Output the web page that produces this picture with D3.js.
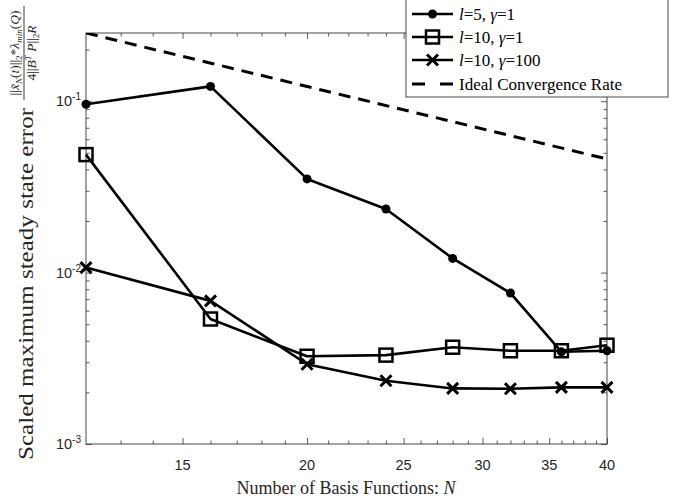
<!DOCTYPE html>
<html>
<head>
<meta charset="utf-8">
<script src="https://cdn.jsdelivr.net/npm/d3@7"></script>
<style>
    html, body { margin: 0; padding: 0; background: #fff; }
    svg { display: block; }
</style>
</head>
<body>
<div id="chart"></div>
<script>
// Values
const basisN = [12, 16, 20, 24, 28, 32, 36, 40];
const errL5G1 = [0.096, 0.122, 0.0352, 0.0235, 0.0121, 0.0076, 0.00345, 0.0035];
const errL10G1 = [0.0488, 0.00536, 0.00325, 0.0033, 0.00367, 0.0035, 0.0035, 0.00377];
const errL10G100 = [0.0107, 0.00684, 0.00292, 0.00234, 0.00211, 0.0021, 0.00214, 0.00214];
const idealN = [12, 40];
const idealErr = [0.25, 0.046];

const xMajorTicks = [15, 20, 25, 30, 35, 40];
const xMinorTicks = [13, 14, 16, 17, 18, 19, 21, 22, 23, 24, 26, 27, 28, 29, 31, 32, 33, 34, 36, 37, 38, 39];
const yMajorTicks = [1e-3, 1e-2, 1e-1];
const yMajorLabels = ["-3", "-2", "-1"];
const yMinorTicks = [2e-3, 3e-3, 4e-3, 5e-3, 6e-3, 7e-3, 8e-3, 9e-3,
    2e-2, 3e-2, 4e-2, 5e-2, 6e-2, 7e-2, 8e-2, 9e-2, 2e-1];

document.addEventListener('DOMContentLoaded', () => {
    const width = 689, height = 501;
    const plot = { left: 86, right: 607, top: 33, bottom: 444 };
    const axisColor = "#333333";
    const sans = "'Liberation Sans', Arial, sans-serif";
    const serif = "'Liberation Serif', 'DejaVu Serif', serif";

    const svg = d3.select("#chart").append("svg")
        .attr("width", width)
        .attr("height", height);

    const x = d3.scaleLog().domain([12, 40]).range([plot.left, plot.right]);
    const y = d3.scaleLog().domain([1e-3, 0.25]).range([plot.bottom, plot.top]);

    svg.append("clipPath").attr("id", "plot-clip")
        .append("rect")
        .attr("x", plot.left).attr("y", plot.top)
        .attr("width", plot.right - plot.left)
        .attr("height", plot.bottom - plot.top);

    // Ticks on all four sides, pointing inward (MATLAB box style)
    const addTicks = (axisFn, scale, values, size, transform) => {
        const g = svg.append("g")
            .attr("transform", transform)
            .call(axisFn(scale).tickValues(values).tickSize(size).tickFormat(""));
        g.select(".domain").remove();
        g.selectAll("line").attr("stroke", axisColor).attr("stroke-width", 0.8);
    };

    addTicks(d3.axisBottom, x, xMajorTicks, -6, `translate(0,${plot.bottom})`);
    addTicks(d3.axisBottom, x, xMinorTicks, -3.5, `translate(0,${plot.bottom})`);
    addTicks(d3.axisTop, x, xMajorTicks, -6, `translate(0,${plot.top})`);
    addTicks(d3.axisTop, x, xMinorTicks, -3.5, `translate(0,${plot.top})`);
    addTicks(d3.axisLeft, y, yMajorTicks, -6, `translate(${plot.left},0)`);
    addTicks(d3.axisLeft, y, yMinorTicks, -3.5, `translate(${plot.left},0)`);
    addTicks(d3.axisRight, y, yMajorTicks, -6, `translate(${plot.right},0)`);
    addTicks(d3.axisRight, y, yMinorTicks, -3.5, `translate(${plot.right},0)`);

    // Box
    svg.append("rect")
        .attr("x", plot.left).attr("y", plot.top)
        .attr("width", plot.right - plot.left)
        .attr("height", plot.bottom - plot.top)
        .attr("fill", "none")
        .attr("stroke", axisColor)
        .attr("stroke-width", 0.9);

    // X tick labels
    svg.append("g").selectAll("text")
        .data(xMajorTicks)
        .join("text")
        .attr("x", d => x(d))
        .attr("y", plot.bottom + 26)
        .attr("text-anchor", "middle")
        .attr("font-family", sans)
        .attr("font-size", 14.5)
        .attr("fill", "#262626")
        .text(d => d);

    // Y tick labels: 10 with a superscript exponent
    const yLabels = svg.append("g").selectAll("text")
        .data(yMajorTicks)
        .join("text")
        .attr("x", plot.left - 5)
        .attr("y", d => y(d) + 5)
        .attr("text-anchor", "end")
        .attr("font-family", sans)
        .attr("font-size", 14.5)
        .attr("fill", "#262626");
    yLabels.append("tspan").text("10");
    yLabels.append("tspan")
        .attr("dy", -6)
        .attr("font-size", 10)
        .text((d, i) => yMajorLabels[i]);

    // X axis title
    const xTitle = svg.append("text")
        .attr("x", 346)
        .attr("y", 494)
        .attr("text-anchor", "middle")
        .attr("font-family", serif)
        .attr("font-size", 18)
        .attr("fill", "#262626");
    xTitle.append("tspan").text("Number of Basis Functions:  ");
    xTitle.append("tspan").attr("font-style", "italic").text("N");

    // Y axis title, rotated, with the fraction at its end
    const yTitle = svg.append("g")
        .attr("transform", "rotate(-90)")
        .attr("fill", "#262626")
        .attr("font-family", serif);

    yTitle.append("text")
        .attr("x", -460)
        .attr("y", 33)
        .attr("font-size", 20)
        .attr("textLength", 352)
        .attr("lengthAdjust", "spacingAndGlyphs")
        .text("Scaled maximum steady state error");

    const fracCenter = -53;
    const num = yTitle.append("text")
        .attr("x", fracCenter)
        .attr("y", 19)
        .attr("text-anchor", "middle")
        .attr("font-size", 13.5);
    num.append("tspan").text("||");
    num.append("tspan").attr("font-style", "italic").text("x\u0303");
    num.append("tspan").attr("font-style", "italic").attr("font-size", 9).attr("dy", 3).text("N");
    num.append("tspan").attr("dy", -3).text("(");
    num.append("tspan").attr("font-style", "italic").text("t");
    num.append("tspan").text(")||");
    num.append("tspan").attr("font-size", 9).attr("dy", 3).text("2");
    num.append("tspan").attr("dy", -3).text("*");
    num.append("tspan").attr("font-style", "italic").text("\u03bb");
    num.append("tspan").attr("font-style", "italic").attr("font-size", 9).attr("dy", 3).text("min");
    num.append("tspan").attr("dy", -3).text("(");
    num.append("tspan").attr("font-style", "italic").text("Q");
    num.append("tspan").text(")");

    yTitle.append("line")
        .attr("x1", fracCenter - 47).attr("x2", fracCenter + 47)
        .attr("y1", 24).attr("y2", 24)
        .attr("stroke", "#262626")
        .attr("stroke-width", 0.9);

    const den = yTitle.append("text")
        .attr("x", fracCenter)
        .attr("y", 36)
        .attr("text-anchor", "middle")
        .attr("font-size", 13.5);
    den.append("tspan").text("4||");
    den.append("tspan").attr("font-style", "italic").text("B");
    den.append("tspan").attr("font-style", "italic").attr("font-size", 9).attr("dy", -5).text("T");
    den.append("tspan").attr("font-style", "italic").attr("dy", 5).text(" P");
    den.append("tspan").text("||");
    den.append("tspan").attr("font-size", 9).attr("dy", 3).text("2");
    den.append("tspan").attr("font-style", "italic").attr("dy", -3).text("R");

    // Series
    const series = [
        { name: "l5g1", values: errL5G1, marker: "circle" },
        { name: "l10g1", values: errL10G1, marker: "square" },
        { name: "l10g100", values: errL10G100, marker: "cross" }
    ];

    const line = d3.line()
        .x(d => x(d[0]))
        .y(d => y(d[1]));

    const plotArea = svg.append("g").attr("clip-path", "url(#plot-clip)");

    plotArea.append("path")
        .datum(d3.zip(idealN, idealErr))
        .attr("d", line)
        .attr("fill", "none")
        .attr("stroke", "#000")
        .attr("stroke-width", 3)
        .attr("stroke-dasharray", "12,8");

    const drawMarker = (g, type, cx, cy) => {
        if (type === "circle") {
            g.append("circle")
                .attr("cx", cx).attr("cy", cy).attr("r", 4.5)
                .attr("fill", "#000");
        } else if (type === "square") {
            g.append("rect")
                .attr("x", cx - 6.5).attr("y", cy - 6.5)
                .attr("width", 13).attr("height", 13)
                .attr("fill", "none")
                .attr("stroke", "#000")
                .attr("stroke-width", 2.5);
        } else {
            const s = 5.5;
            g.append("path")
                .attr("d", `M${cx - s},${cy - s}L${cx + s},${cy + s}M${cx - s},${cy + s}L${cx + s},${cy - s}`)
                .attr("stroke", "#000")
                .attr("stroke-width", 3);
        }
    };

    series.forEach(s => {
        const pts = d3.zip(basisN, s.values);
        svg.append("path")
            .datum(pts)
            .attr("d", line)
            .attr("fill", "none")
            .attr("stroke", "#000")
            .attr("stroke-width", 2.6)
            .attr("stroke-linejoin", "round");
        const mg = svg.append("g");
        pts.forEach(p => drawMarker(mg, s.marker, x(p[0]), y(p[1])));
    });

    // Legend
    const legend = svg.append("g");
    legend.append("rect")
        .attr("x", 406).attr("y", -2)
        .attr("width", 262).attr("height", 99)
        .attr("fill", "#fff")
        .attr("stroke", axisColor)
        .attr("stroke-width", 0.9);

    const legendRows = [
        { marker: "circle", l: "5", g: "1" },
        { marker: "square", l: "10", g: "1" },
        { marker: "cross", l: "10", g: "100" },
        { marker: "dash" }
    ];
    const rowY = [14, 37, 60, 84];

    legendRows.forEach((r, i) => {
        const ly = rowY[i];
        const sample = legend.append("line")
            .attr("x1", 412).attr("x2", 453)
            .attr("y1", ly).attr("y2", ly)
            .attr("stroke", "#000")
            .attr("stroke-width", r.marker === "dash" ? 3 : 2.6);
        if (r.marker === "dash") {
            sample.attr("stroke-dasharray", "13,15");
        } else {
            drawMarker(legend, r.marker, 432.5, ly);
        }
        const t = legend.append("text")
            .attr("x", 459)
            .attr("y", ly + 6)
            .attr("font-family", serif)
            .attr("font-size", 17)
            .attr("fill", "#000");
        if (r.marker === "dash") {
            t.text("Ideal Convergence Rate");
        } else {
            t.append("tspan").attr("font-style", "italic").text("l");
            t.append("tspan").text(`=${r.l}, `);
            t.append("tspan").attr("font-style", "italic").text("\u03b3");
            t.append("tspan").text(`=${r.g}`);
        }
    });
});
</script>
</body>
</html>
